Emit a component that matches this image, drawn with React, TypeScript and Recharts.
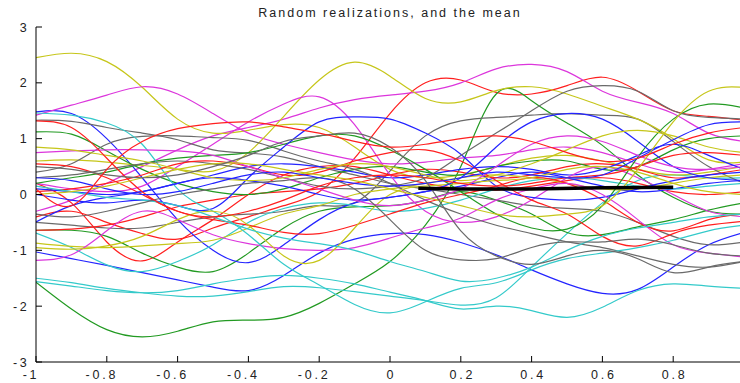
import React from 'react'
import { LineChart, Line, XAxis, YAxis } from 'recharts'

// sample positions along x
const xs = [-1, -0.9, -0.8, -0.7, -0.6, -0.5, -0.4, -0.3, -0.2, -0.1, 0, 0.1, 0.2, 0.3, 0.4, 0.5, 0.6, 0.7, 0.8, 0.9, 1]

// realizations, one array per curve (values at xs)
const yellowA = [2.45, 2.53, 2.38, 1.92, 1.35, 1.1, 1.15, 1.25, 1.2, 0.85, 0.45, 0.3, 0.35, 0.5, 0.65, 0.7, 0.6, 0.45, 0.35, 0.4, 0.5]
const yellowB = [0.6, 0.62, 0.58, 0.52, 0.45, 0.42, 0.75, 1.4, 2.05, 2.37, 2.12, 1.72, 1.66, 1.86, 1.93, 1.8, 1.58, 1.35, 1.0, 0.62, 0.58]
const magentaA = [-0.3, -0.1, 0.2, 0.5, 0.8, 1.05, 1.2, 1.35, 1.55, 1.7, 1.78, 1.85, 2.0, 2.25, 2.33, 2.2, 1.85, 1.65, 1.45, 1.1, 0.95]
const magentaB = [1.42, 1.6, 1.78, 1.93, 1.8, 1.45, 1.1, 0.9, 0.75, 0.62, 0.55, 0.58, 0.65, 0.7, 0.8, 0.85, 0.75, 0.55, 0.4, 0.45, 0.55]
const magentaC = [0.2, 0.1, 0.05, 0.15, 0.5, 0.9, 1.3, 1.62, 1.75, 1.25, 0.35, -0.3, -0.5, -0.4, -0.1, 0.3, 0.5, 0.3, 0.0, -0.3, -0.4]
const redA = [-0.4, -0.3, -0.5, -0.7, -0.8, -0.6, -0.4, -0.2, 0.05, 0.65, 1.45, 2.0, 2.05, 1.83, 1.8, 1.95, 2.1, 1.85, 1.5, 1.4, 1.33]
const grayA = [-0.5, -0.55, -0.6, -0.6, -0.5, -0.4, -0.35, -0.3, -0.2, -0.15, 0.42, 1.05, 1.32, 1.38, 1.42, 1.45, 1.42, 1.35, 0.95, 0.5, 0.2]
const greenA = [-1.57, -2.05, -2.42, -2.55, -2.45, -2.28, -2.25, -2.2, -1.95, -1.6, -1.2, -0.55, 0.5, 1.8, 1.68, 1.28, 0.88, 0.35, -0.05, -0.3, -0.35]
const cyanA = [-1.5, -1.58, -1.68, -1.76, -1.82, -1.82, -1.74, -1.65, -1.67, -1.74, -1.82, -1.9, -1.98, -1.85, -1.3, -0.7, -0.15, 0.25, 0.35, 0.3, 0.3]
const cyanB = [-1.56, -1.64, -1.72, -1.76, -1.72, -1.6, -1.5, -1.45, -1.5, -1.6, -1.75, -1.9, -2.05, -2.0, -2.08, -2.2, -2.02, -1.72, -1.6, -1.64, -1.68]
const blueA = [-1.03, -1.15, -1.27, -1.4, -1.53, -1.66, -1.72, -1.45, -1.05, -0.8, -0.7, -0.72, -0.86, -1.08, -1.35, -1.6, -1.77, -1.7, -1.3, -0.9, -0.68]
const redB = [0.2, -0.15, -0.85, -1.19, -0.85, -0.45, 0.0, 0.35, 0.5, 0.5, 0.35, 0.2, 0.1, 0.08, 0.15, 0.25, 0.3, 0.2, 0.05, 0.0, 0.05]
const redC = [-0.64, -0.62, -0.55, -0.4, -0.22, -0.1, 0.0, 0.05, 0.1, 0.2, 0.35, 0.45, 0.4, 0.3, 0.35, 0.5, 0.55, 0.45, 0.3, 0.35, 0.45]
const redD = [0.55, 0.5, 0.3, 0.0, -0.3, -0.45, -0.55, -0.68, -0.7, -0.55, -0.35, -0.15, 0.0, 0.15, 0.3, 0.2, -0.1, -0.5, -0.65, -0.45, -0.35]
const redE = [0.05, 0.1, 0.2, 0.35, 0.55, 0.6, 0.5, 0.35, 0.4, 0.6, 0.75, 0.8, 0.6, 0.25, -0.1, -0.35, -0.75, -0.92, -0.7, -0.55, -0.48]
const greenB = [-0.64, -0.64, -0.75, -1.05, -1.3, -1.38, -1.05, -0.6, -0.3, -0.22, -0.2, -0.1, 0.05, -0.1, -0.35, -0.68, -0.72, -0.58, -0.45, -0.28, -0.15]
const cyanC = [-0.69, -0.95, -1.26, -1.38, -1.2, -0.9, -0.5, -0.25, -0.15, -0.2, -0.3, -0.25, -0.1, 0.1, 0.25, 0.3, 0.25, 0.15, 0.1, 0.15, 0.2]
const magentaD = [-1.18, -1.08, -0.65, -0.3, -0.45, -0.72, -0.88, -0.97, -1.0, -0.95, -0.78, -0.6, -0.42, -0.1, 0.1, 0.2, 0.0, -0.45, -0.9, -1.05, -1.12]
const yellowC = [-0.87, -0.93, -0.95, -0.92, -0.88, -0.82, -0.6, -0.35, -0.2, 0.0, 0.1, 0.2, 0.3, 0.35, 0.3, 0.2, 0.1, 0.1, 0.2, 0.3, 0.35]
const yellowD = [-0.95, -0.98, -0.92, -0.75, -0.45, -0.3, -0.55, -1.1, -1.18, -0.6, 0.0, 0.15, 0.2, 0.25, 0.3, 0.45, 0.5, 0.4, 0.2, 0.05, 0.0]
const blueB = [1.48, 1.45, 1.0, 0.3, -0.45, -1.0, -1.22, -0.9, -0.45, -0.15, -0.05, 0.05, 0.15, 0.3, 0.4, 0.3, 0.15, 0.05, 0.1, 0.2, 0.25]
const cyanD = [1.46, 1.42, 1.28, 0.9, 0.1, -0.3, -0.72, -1.25, -1.62, -1.97, -2.12, -1.92, -1.68, -1.58, -1.35, -1.15, -1.05, -0.95, -0.82, -0.65, -0.55]
const grayB = [1.33, 1.31, 1.2, 1.1, 0.98, 0.8, 0.74, 0.67, 0.5, 0.35, 0.2, 0.1, 0.0, -0.1, -0.2, -0.25, -0.3, -0.5, -0.75, -0.9, -0.85]
const redF = [1.32, 1.2, 0.65, 0.05, -0.3, -0.4, -0.3, -0.1, 0.15, 0.3, 0.35, 0.3, 0.2, 0.15, 0.2, 0.3, 0.35, 0.5, 0.7, 0.75, 0.7]
const greenC = [1.12, 1.08, 0.78, 0.45, 0.2, 0.05, 0.0, 0.1, 0.3, 0.45, 0.5, 0.4, 0.35, 0.5, 0.6, 0.6, 0.45, 0.5, 0.8, 1.0, 1.05]
const grayC = [0.4, 0.55, 0.9, 1.04, 1.05, 1.02, 0.97, 0.78, 0.6, 0.45, 0.2, -0.1, -0.35, -0.55, -0.7, -0.85, -0.95, -1.1, -1.25, -1.3, -1.2]
const redG = [0.1, -0.2, 0.45, 0.95, 1.18, 1.27, 1.3, 1.21, 1.1, 0.95, 0.85, 0.9, 1.0, 1.05, 0.95, 0.75, 0.6, 0.65, 0.9, 1.1, 1.2]
const yellowE = [0.85, 0.8, 0.7, 0.6, 0.45, 0.3, 0.25, 0.3, 0.45, 0.55, 0.5, 0.35, 0.25, 0.35, 0.55, 0.8, 1.05, 1.15, 1.05, 0.85, 0.75]
const magentaE = [0.75, 0.78, 0.8, 0.8, 0.78, 0.7, 0.5, 0.3, 0.1, -0.1, -0.2, -0.1, 0.1, 0.5, 0.9, 1.05, 0.95, 0.7, 0.5, 0.45, 0.5]
const blueC = [-0.49, -0.2, -0.05, 0.05, 0.2, 0.35, 0.5, 0.55, 0.5, 0.4, 0.3, 0.35, 0.45, 0.5, 0.45, 0.35, 0.45, 0.7, 0.9, 0.7, 0.45]
const blueD = [0.0, -0.1, -0.15, -0.1, -0.2, -0.25, 0.3, 0.85, 1.3, 1.39, 1.35, 1.1, 0.72, 0.15, -0.05, -0.1, -0.05, 0.1, 0.25, 0.35, 0.4]
const blueE = [0.1, 0.05, 0.0, 0.05, 0.2, 0.3, 0.25, 0.15, 0.0, -0.1, -0.05, 0.05, 0.3, 0.85, 1.3, 1.45, 1.35, 0.95, 0.5, 0.3, 0.25]
const blueF = [0.3, 0.25, 0.1, 0.0, 0.05, 0.2, 0.35, 0.4, 0.3, 0.2, 0.15, 0.2, 0.3, 0.4, 0.35, 0.3, 0.35, 0.65, 0.98, 1.25, 1.3]
const grayD = [0.3, 0.35, 0.45, 0.55, 0.6, 0.55, 0.45, 0.3, 0.15, 0.1, 0.15, 0.3, 0.7, 1.1, 1.5, 1.85, 1.95, 1.85, 1.5, 1.38, 1.35]
const greenD = [0.2, 0.3, 0.4, 0.55, 0.65, 0.7, 0.75, 0.9, 1.05, 1.05, 0.8, 0.45, 0.05, -0.35, -0.6, -0.62, -0.2, 0.67, 1.35, 1.62, 1.55]
const yellowF = [0.0, 0.05, 0.15, 0.3, 0.45, 0.55, 0.55, 0.45, 0.35, 0.25, 0.1, -0.05, -0.2, -0.35, -0.4, -0.35, -0.2, 0.45, 1.3, 1.85, 1.92]
const cyanE = [0.15, 0.05, -0.05, -0.1, -0.2, -0.4, -0.62, -0.78, -0.88, -1.0, -1.2, -1.38, -1.55, -1.5, -1.3, -1.0, -0.75, -0.6, -0.5, -0.4, -0.35]
const grayE = [-0.35, -0.4, -0.3, -0.15, 0.0, 0.1, 0.2, 0.25, 0.3, 0.1, -0.45, -1.0, -1.17, -1.15, -0.95, -0.85, -0.85, -0.8, -0.9, -1.05, -1.1]
const grayF = [0.5, 0.45, 0.35, 0.3, 0.35, 0.5, 0.7, 0.95, 1.05, 1.1, 0.85, 0.25, -0.65, -1.1, -1.25, -1.1, -1.0, -1.15, -1.4, -1.3, -1.2]

// mean curve, drawn only over part of the range
const meanX = [0.08, 0.2, 0.4, 0.6, 0.8]
const meanY = [0.11, 0.1, 0.1, 0.12, 0.13]

const xTicks = [-1, -0.8, -0.6, -0.4, -0.2, 0, 0.2, 0.4, 0.6, 0.8]
const yTicks = [-3, -2, -1, 0, 1, 2, 3]

const RED = '#ff1f1f'
const GREEN = '#229a22'
const BLUE = '#2424ff'
const MAGENTA = '#dc36dc'
const CYAN = '#34caca'
const YELLOW = '#c6c61a'
const GRAY = '#6a6a6a'

const realizations = [
  { key: 'redA', color: RED, values: redA },
  { key: 'greenA', color: GREEN, values: greenA },
  { key: 'blueA', color: BLUE, values: blueA },
  { key: 'magentaA', color: MAGENTA, values: magentaA },
  { key: 'cyanA', color: CYAN, values: cyanA },
  { key: 'yellowA', color: YELLOW, values: yellowA },
  { key: 'grayA', color: GRAY, values: grayA },
  { key: 'redB', color: RED, values: redB },
  { key: 'greenB', color: GREEN, values: greenB },
  { key: 'blueB', color: BLUE, values: blueB },
  { key: 'magentaB', color: MAGENTA, values: magentaB },
  { key: 'cyanB', color: CYAN, values: cyanB },
  { key: 'yellowB', color: YELLOW, values: yellowB },
  { key: 'grayB', color: GRAY, values: grayB },
  { key: 'redC', color: RED, values: redC },
  { key: 'greenC', color: GREEN, values: greenC },
  { key: 'blueC', color: BLUE, values: blueC },
  { key: 'magentaC', color: MAGENTA, values: magentaC },
  { key: 'cyanC', color: CYAN, values: cyanC },
  { key: 'yellowC', color: YELLOW, values: yellowC },
  { key: 'grayC', color: GRAY, values: grayC },
  { key: 'redD', color: RED, values: redD },
  { key: 'greenD', color: GREEN, values: greenD },
  { key: 'blueD', color: BLUE, values: blueD },
  { key: 'magentaD', color: MAGENTA, values: magentaD },
  { key: 'cyanD', color: CYAN, values: cyanD },
  { key: 'yellowD', color: YELLOW, values: yellowD },
  { key: 'grayD', color: GRAY, values: grayD },
  { key: 'redE', color: RED, values: redE },
  { key: 'blueE', color: BLUE, values: blueE },
  { key: 'magentaE', color: MAGENTA, values: magentaE },
  { key: 'cyanE', color: CYAN, values: cyanE },
  { key: 'yellowE', color: YELLOW, values: yellowE },
  { key: 'grayE', color: GRAY, values: grayE },
  { key: 'redF', color: RED, values: redF },
  { key: 'blueF', color: BLUE, values: blueF },
  { key: 'yellowF', color: YELLOW, values: yellowF },
  { key: 'grayF', color: GRAY, values: grayF },
  { key: 'redG', color: RED, values: redG },
]

const rows = xs.map((x, i) => {
  const row: Record<string, number> = { x }
  realizations.forEach((r) => { row[r.key] = r.values[i] })
  return row
})

const meanRows = meanX.map((x, i) => ({ x, mean: meanY[i] }))

const FONT = '"Liberation Sans", Arial, sans-serif'
const TICK = 6

// gnuplot style: ticks point into the plot, labels outside
const BottomTick = ({ x, y, payload }: any) => (
  <g>
    <line x1={x} x2={x} y1={y} y2={y - TICK} stroke="#000" />
    <text
      x={x + (payload.value < 0 ? -5 : 1.5)} y={y + 17} textAnchor="middle"
      fontSize={12.5} fontFamily={FONT} fill="#222" letterSpacing={2.8}
    >
      {payload.value}
    </text>
  </g>
)

const TopTick = ({ x, y }: any) => <line x1={x} x2={x} y1={y} y2={y + TICK} stroke="#000" />

const LeftTick = ({ x, y, payload }: any) => (
  <g>
    <line x1={x} x2={x + TICK} y1={y} y2={y} stroke="#000" />
    <text x={x - 7} y={y + 4.5} textAnchor="end" fontSize={12.5} fontFamily={FONT} fill="#222" letterSpacing={2.4}>
      {payload.value}
    </text>
  </g>
)

const RightTick = ({ x, y }: any) => <line x1={x} x2={x - TICK} y1={y} y2={y} stroke="#000" />

export default function App() {
  return (
    <div style={{ position: 'absolute', left: 0, top: 0, width: 740, height: 383, overflow: 'hidden', background: '#fff' }}>
      <div
        style={{
          position: 'absolute', left: 0, width: 780, top: 6, textAlign: 'center',
          fontFamily: FONT, fontSize: 12.5, letterSpacing: 2, color: '#222',
        }}
      >
        Random realizations, and the mean
      </div>
      <LineChart width={744} height={383} data={rows} margin={{ top: 27, right: 0, bottom: 0, left: 0 }}>
        <XAxis
          dataKey="x" type="number" domain={[-1, 1]} allowDataOverflow ticks={xTicks}
          height={21} tickSize={0} tickMargin={0} tickLine={false} tick={<BottomTick />}
          axisLine={{ stroke: '#000' }} interval={0}
        />
        <XAxis
          xAxisId="top" orientation="top" dataKey="x" type="number" domain={[-1, 1]} allowDataOverflow
          ticks={xTicks} height={0} tickSize={0} tickMargin={0} tickLine={false} tick={<TopTick />}
          axisLine={{ stroke: '#000' }} interval={0}
        />
        <YAxis
          type="number" domain={[-3, 3]} allowDataOverflow ticks={yTicks} width={36}
          tickSize={0} tickMargin={0} tickLine={false} tick={<LeftTick />} axisLine={{ stroke: '#000' }} interval={0}
        />
        <YAxis
          yAxisId="right" orientation="right" type="number" domain={[-3, 3]} allowDataOverflow ticks={yTicks}
          width={0} tickSize={0} tickMargin={0} tickLine={false} tick={<RightTick />} axisLine={{ stroke: '#000' }} interval={0}
        />
        {realizations.map((r) => (
          <Line
            key={r.key}
            dataKey={r.key}
            type="natural"
            stroke={r.color}
            strokeWidth={1.2}
            dot={false}
            isAnimationActive={false}
          />
        ))}
        <Line
          data={meanRows}
          dataKey="mean"
          type="linear"
          stroke="#000"
          strokeWidth={3.5}
          dot={false}
          isAnimationActive={false}
        />
      </LineChart>
    </div>
  )
}
